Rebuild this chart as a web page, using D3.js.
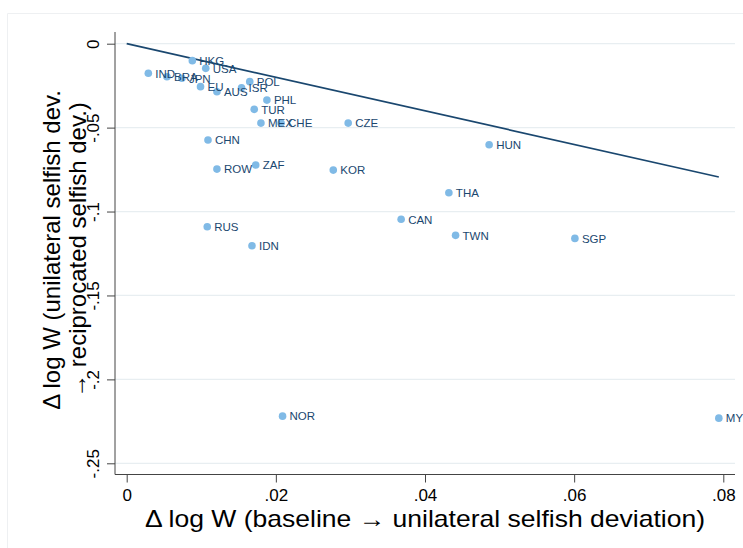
<!DOCTYPE html>
<html><head><meta charset="utf-8">
<script src="https://cdn.jsdelivr.net/npm/d3@7"></script>
<style>body{margin:0;background:#fff;} svg{display:block;font-family:"Liberation Sans",Arial,sans-serif;}</style>
</head><body>
<svg id="c" width="743" height="548"></svg>
<script>
const countries = ["IND","BRA","JPN","HKG","USA","EU","AUS","ISR","POL","PHL","TUR","MEX","CHE","CZE","CHN","ROW","ZAF","KOR","RUS","IDN","HUN","THA","CAN","TWN","SGP","NOR","MYS"];
const xVals = [0.0029,0.0054,0.0074,0.0088,0.0106,0.0099,0.0121,0.0154,0.0165,0.0188,0.0171,0.0180,0.0207,0.0297,0.0109,0.0121,0.0173,0.0277,0.0108,0.0168,0.0486,0.0432,0.0368,0.0441,0.0601,0.0209,0.0794];
const yVals = [-0.0176,-0.0197,-0.0206,-0.0101,-0.0147,-0.0256,-0.0286,-0.0263,-0.0226,-0.0336,-0.0391,-0.0473,-0.0473,-0.0473,-0.0574,-0.0747,-0.0723,-0.0753,-0.1091,-0.1204,-0.0602,-0.0888,-0.1046,-0.1142,-0.1160,-0.2219,-0.2231];
const xTicks = [0,0.02,0.04,0.06,0.08];
const xTickLabels = ["0",".02",".04",".06",".08"];
const yTicks = [0,-0.05,-0.1,-0.15,-0.2,-0.25];
const yTickLabels = ["0","-.05","-.1","-.15","-.2","-.25"];
const xTitle = "Δ log W (baseline → unilateral selfish deviation)";
const yTitleLines = ["Δ log W (unilateral selfish dev.","→ reciprocated selfish dev.)"];

const data = countries.map((c,i)=>({c, x:xVals[i], y:yVals[i]}));
const svg = d3.select("#c");
const L=115, R=735, T=32, B=474.5;
const x = d3.scaleLinear().domain([0,0.08]).range([126.7,723.3]);
const y = d3.scaleLinear().domain([0,-0.25]).range([43.7,463.3]);
const navy = "#1a476f";
const FF = "Liberation Sans, Arial, sans-serif";

// outer frame
svg.append("path").attr("d","M7.5,548 V13.5 H743").attr("fill","none").attr("stroke","#eef0f2").attr("stroke-width",1);

// gridlines
svg.append("g").selectAll("line").data(yTicks).join("line")
  .attr("x1",L).attr("x2",R).attr("y1",d=>y(d)).attr("y2",d=>y(d))
  .attr("stroke","#e8eef1").attr("stroke-width",1.2);

// axes
const gx = svg.append("g").attr("transform",`translate(0,${B})`)
  .call(d3.axisBottom(x).tickValues(xTicks).tickFormat((d,i)=>xTickLabels[i]).tickSize(8).tickPadding(6).tickSizeOuter(0));
gx.select(".domain").remove();
gx.selectAll("line").attr("stroke","#444");
gx.selectAll("text").attr("font-size",17).attr("fill","#000").attr("font-family",FF);
svg.append("line").attr("x1",L).attr("x2",R).attr("y1",B).attr("y2",B).attr("stroke","#444").attr("stroke-width",1);

const gy = svg.append("g").attr("transform",`translate(${L},0)`)
  .call(d3.axisLeft(y).tickValues(yTicks).tickFormat((d,i)=>yTickLabels[i]).tickSize(8).tickSizeOuter(0));
gy.select(".domain").remove();
gy.selectAll("line").attr("stroke","#444");
gy.selectAll("text").attr("font-size",17).attr("fill","#000").attr("font-family",FF)
  .attr("x",null).attr("dy",null).attr("text-anchor","middle")
  .attr("transform","translate(-16,0) rotate(-90)");
svg.append("line").attr("x1",L).attr("x2",L).attr("y1",T).attr("y2",B).attr("stroke","#444").attr("stroke-width",1);

// reference line y = -x
const maxX = d3.max(xVals);
svg.append("line").attr("x1",x(0)).attr("y1",y(0)).attr("x2",x(maxX)).attr("y2",y(-maxX))
  .attr("stroke",navy).attr("stroke-width",1.7);

// points
svg.append("g").selectAll("circle").data(data).join("circle")
  .attr("cx",d=>x(d.x)).attr("cy",d=>y(d.y)).attr("r",3.8).attr("fill","#80bae6");
svg.append("g").selectAll("text").data(data).join("text")
  .attr("x",d=>x(d.x)+7).attr("y",d=>y(d.y)+4.3)
  .attr("font-size",11.5).attr("fill",navy).text(d=>d.c);

// titles
svg.append("text").attr("x",(L+R)/2).attr("y",527).attr("text-anchor","middle")
  .attr("font-size",24).attr("fill","#000")
  .attr("textLength",560).attr("lengthAdjust","spacingAndGlyphs").text(xTitle);
const yt = svg.append("text").attr("transform",`translate(60,250) rotate(-90)`)
  .attr("text-anchor","middle").attr("font-size",24).attr("fill","#000");
yTitleLines.forEach((t,i)=>yt.append("tspan").attr("x",0).attr("dy",i?26:0).text(t));
</script>
</body></html>
